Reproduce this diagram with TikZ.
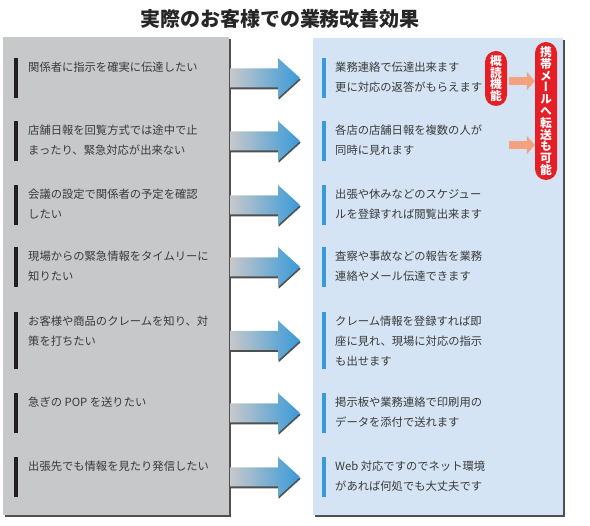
\documentclass[tikz,border=0pt]{standalone}
\usepackage{fontspec}
\setmainfont{Noto Sans CJK JP}
\newfontfamily\vertfont[RawFeature=+vert]{Noto Sans CJK JP}
\usetikzlibrary{positioning,calc,arrows.meta}

\definecolor{boxgray}{HTML}{C7C8CA}
\definecolor{boxblue}{HTML}{D4E4F4}
\definecolor{barblue}{HTML}{3A9AD8}
\definecolor{barblack}{HTML}{231F20}
\definecolor{badgered}{HTML}{E61F27}
\definecolor{tipsalmon}{HTML}{F5A07F}
\definecolor{shadowgray}{HTML}{505050}
\definecolor{txtgray}{HTML}{3A3A3A}

\tikzset{
  item/.style={inner sep=0pt, anchor=north west, align=left, text=txtgray,
    font=\fontsize{11.3}{20}\selectfont},
  badge/.style={fill=badgered, text=white, rounded corners=11pt, inner sep=0pt,
    minimum width=22pt, align=center, font=\vertfont\bfseries\fontsize{11.8}{11.8}\selectfont},
  salmonarrow/.style={draw=tipsalmon, line width=8.4pt,
    -{Triangle[length=8pt, width=18pt]}}
}

\begin{document}
\begin{tikzpicture}[x=1pt, y=-1pt]
    \useasboundingbox (0,0) rectangle (590,526);

    % title
    \node[font=\bfseries\fontsize{20}{20}\selectfont, text=black!85] (title) at (280,18.5) {実際のお客様での業務改善効果};

    % gray panel (before) and blue panel (after), with shadows
    \fill[shadowgray] (5,39) rectangle (231,517);
    \fill[boxgray] (3,37) rectangle (229,515);
    \fill[shadowgray] (315,40) rectangle (565,517);
    \fill[boxblue] (313,38) rectangle (563,515);

    % rows: number / bar top / bar height / left text / right text
    \foreach \n/\top/\h/\ltext/\rtext in {
        1/58/40/{関係者に指示を確実に伝達したい}/{業務連絡で伝達出来ます\\更に対応の返答がもらえます},
        2/121/40/{店舗日報を回覧方式では途中で止\\まったり、緊急対応が出来ない}/{各店の店舗日報を複数の人が\\同時に見れます},
        3/185/40/{会議の設定で関係者の予定を確認\\したい}/{出張や休みなどのスケジュー\\ルを登録すれば閲覧出来ます},
        4/247/40/{現場からの緊急情報をタイムリーに\\知りたい}/{査察や事故などの報告を業務\\連絡やメール伝達できます},
        5/312/57/{お客様や商品のクレームを知り、対\\策を打ちたい}/{クレーム情報を登録すれば即\\座に見れ、現場に対応の指示\\も出せます},
        6/393/40/{急ぎの POP を送りたい}/{掲示板や業務連絡で印刷用の\\データを添付で送れます},
        7/457/40/{出張先でも情報を見たり発信したい}/{Web 対応ですのでネット環境\\があれば何処でも大丈夫です}} {
        % left item
        \fill[barblack] (13.5,\top) rectangle ++(4,\h);
        \node[item] (q\n) at (28,\top+3.4) {\ltext};
        % right item
        \fill[barblue] (321.5,\top) rectangle ++(4,\h);
        \node[item] (a\n) at (335,\top+3.4) {\rtext};
        % gradient arrow
        \coordinate (g\n) at (230,\top+\h/2);
        \fill[shadowgray] ($(g\n)+(0.6,1.8)$) ++(0,-9.5) -- ++(48,0) -- ++(0,-10.5)
            -- ++(22,20) -- ++(-22,20) -- ++(0,-10.5) -- ++(-48,0) -- cycle;
        \shade[left color=boxgray, right color=barblue] (g\n) ++(0,-9.5) -- ++(48,0) -- ++(0,-10.5)
            -- ++(22,20) -- ++(-22,20) -- ++(0,-10.5) -- ++(-48,0) -- cycle;
    }

    % red badges
    \node[badge, minimum height=55pt] (b1) at (496,78.5) {概\\読\\機\\能};
    \node[badge, minimum height=138pt] (b2) at (546,111) {携\\帯\\メ\\ー\\ル\\へ\\転\\送\\も\\可\\能};

    % salmon arrows into the mail badge
    \draw[salmonarrow] ($(b1.east)+(2,2.5)$) -- ($(b2.west |- b1.east)+(0,2.5)$);
    \coordinate (o2) at (509,145);
    \draw[salmonarrow] (o2) -- (b2.west |- o2);
\end{tikzpicture}
\end{document}
